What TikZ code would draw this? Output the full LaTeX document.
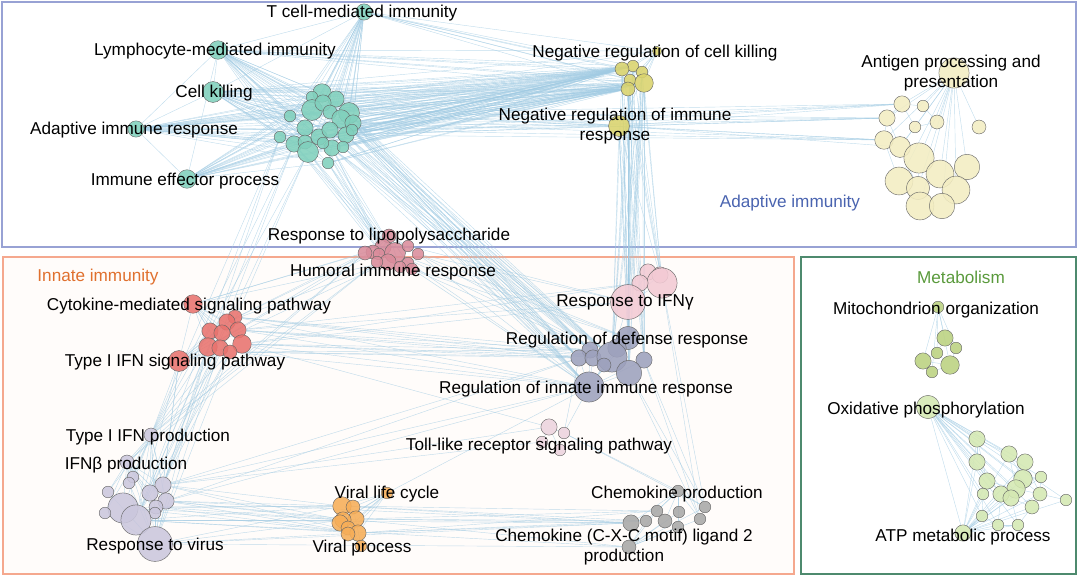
\documentclass[tikz,border=0pt]{standalone}
\usepackage{fontspec}
\setmainfont{Liberation Sans}

\definecolor{cTeal}{RGB}{128,208,188}
\definecolor{cYel}{RGB}{217,211,108}
\definecolor{cAnt}{RGB}{243,237,194}
\definecolor{cLps}{RGB}{217,140,155}
\definecolor{cRed}{RGB}{233,115,110}
\definecolor{cIfg}{RGB}{243,202,212}
\definecolor{cReg}{RGB}{157,161,189}
\definecolor{cToll}{RGB}{236,212,222}
\definecolor{cLav}{RGB}{203,199,221}
\definecolor{cOra}{RGB}{247,174,88}
\definecolor{cChe}{RGB}{168,168,168}
\definecolor{cMito}{RGB}{187,210,128}
\definecolor{cGrn}{RGB}{212,232,178}
\definecolor{cEdge}{RGB}{160,202,226}
\definecolor{cAdBox}{RGB}{152,162,212}
\definecolor{cAdTxt}{RGB}{74,100,176}
\definecolor{cInBox}{RGB}{245,168,142}
\definecolor{cInTxt}{RGB}{224,112,46}
\definecolor{cMeBox}{RGB}{78,138,110}
\definecolor{cMeTxt}{RGB}{90,154,60}

\pgfdeclarelayer{bg}
\pgfdeclarelayer{links}
\pgfsetlayers{bg,links,main}

\begin{document}
\begin{tikzpicture}[x=0.025cm, y=-0.025cm]
    \tikzset{bub/.style={circle, draw=black!60, line width=0.3pt, fill opacity=0.88, inner sep=0pt, minimum size=#1*0.058cm}}
    \tikzstyle{lk}=[draw=cEdge, line width=0.3pt, draw opacity=0.65]
    \tikzstyle{lbl}=[font=\fontsize{12.2}{13.8}\selectfont, inner sep=0pt, align=center]
    \useasboundingbox (0,0) rectangle (1080,577);

    % adaptive immunity
    \foreach \n/\x/\y/\r in {tA/364/12/7, tB/218/50/8, tC/213/92/9, tD/136/129/7, tE/187/179/8,
        t1/322/93/8, t2/336/99/7, t3/312/97/5, t4/312/110/9, t5/323/103/7, t6/330/112/6,
        t7/349/113/9, t8/341/119/8, t9/353/123/7, t10/290/116/5, t11/305/128/7, t12/319/137/7,
        t13/330/130/7, t14/346/135/7, t15/280/137/5, t16/294/144/7, t17/305/142/6, t18/308/152/9,
        t19/332/148/7, t20/343/147/5, t21/323/143/5, t22/328/163/5, t23/352/130/5}
      \node[bub=\r, fill=cTeal] (\n) at (\x,\y) {};
    \foreach \n/\x/\y/\r in {y1/657/51/4, y2/633/66/5, y3/622/69/6, y4/642/72/5, y5/630/80/5,
        y6/644/83/8, y7/628/89/6, y8/619/126/9}
      \node[bub=\r, fill=cYel] (\n) at (\x,\y) {};
    \foreach \n/\x/\y/\r in {a1/954/73/13, a2/902/104/7, a3/923/106/5, a4/887/118/7, a5/937/122/6,
        a6/915/127/5, a7/979/127/6, a8/884/140/8, a9/900/147/9, a10/919/158/13, a11/940/174/12,
        a12/967/167/11, a13/899/181/12, a14/918/188/10, a15/956/190/12, a16/920/206/12, a17/942/206/11}
      \node[bub=\r, fill=cAnt] (\n) at (\x,\y) {};

    % innate immunity
    \foreach \n/\x/\y/\r in {p1/389/236/6, p2/383/247/7, p3/395/253/9, p4/373/252/6, p5/365/253/6,
        p6/379/254/5, p7/408/246/5, p8/418/254/5, p9/388/262/7, p10/408/263/5, p11/412/269/5,
        p12/400/267/5, p13/377/262/5}
      \node[bub=\r, fill=cLps] (\n) at (\x,\y) {};
    \foreach \n/\x/\y/\r in {r1/193/304/8, r2/179/361/9, r3/235/317/6, r4/227/322/7, r5/238/330/7,
        r6/210/331/7, r7/222/333/7, r8/242/344/8, r9/208/347/8, r10/220/348/7, r11/230/352/6}
      \node[bub=\r, fill=cRed] (\n) at (\x,\y) {};
    \foreach \n/\x/\y/\r in {g1/648/272/7, g2/660/275/7, g3/662/283/13, g4/640/283/7, g5/628/302/15}
      \node[bub=\r, fill=cIfg] (\n) at (\x,\y) {};
    \foreach \n/\x/\y/\r in {d1/628/338/10, d2/617/348/8, d3/590/350/7, d4/579/358/7, d5/593/358/7,
        d6/612/357/13, d7/604/365/6, d8/644/360/7, d9/629/373/11, d10/589/387/13}
      \node[bub=\r, fill=cReg] (\n) at (\x,\y) {};
    \foreach \n/\x/\y/\r in {k1/549/427/7, k2/564/433/5, k3/542/442/5, k4/560/450/5}
      \node[bub=\r, fill=cToll] (\n) at (\x,\y) {};
    \foreach \n/\x/\y/\r in {v1/151/435/6, v2/127/462/6, v3/133/477/5, v4/129/483/5, v5/108/492/5,
        v6/163/485/7, v7/150/493/7, v8/166/501/7, v9/156/507/6, v10/155/513/5, v11/123/508/13,
        v12/136/520/13, v13/105/513/5, v14/155/544/15}
      \node[bub=\r, fill=cLav] (\n) at (\x,\y) {};
    \foreach \n/\x/\y/\r in {o1/387/493/5, o2/342/506/8, o3/353/507/6, o4/356/519/7, o5/343/520/7,
        o6/340/523/7, o7/348/528/6, o8/358/533/7, o9/348/534/6, o10/361/546/5}
      \node[bub=\r, fill=cOra] (\n) at (\x,\y) {};
    \foreach \n/\x/\y/\r in {c1/678/491/5, c2/657/511/5, c3/679/512/5, c4/705/507/5, c5/631/523/7,
        c6/646/521/5, c7/665/521/6, c8/700/519/5, c9/678/527/5, c10/629/547/6}
      \node[bub=\r, fill=cChe] (\n) at (\x,\y) {};

    % metabolism
    \foreach \n/\x/\y/\r in {m1/938/307/5, m2/945/338/7, m3/956/348/5, m4/937/353/5, m5/923/361/7,
        m6/950/365/8, m7/932/372/5}
      \node[bub=\r, fill=cMito] (\n) at (\x,\y) {};
    \foreach \n/\x/\y/\r in {x1/928/407/10, e1/977/439/7, e2/1009/454/7, e3/977/462/7, e4/1025/462/7,
        e5/987/481/7, e6/1023/479/8, e7/1041/477/5, e8/1016/489/8, e9/1001/494/7, e10/1011/498/7,
        e11/983/494/5, e12/1040/494/6, e13/1066/500/5, e14/1032/507/6, e15/982/516/5,
        e16/998/525/5, e17/1018/525/5, z1/963/533/7}
      \node[bub=\r, fill=cGrn] (\n) at (\x,\y) {};

    \begin{pgfonlayer}{links}
      \foreach \h in {tA,tB,tC,tD,tE}
        \foreach \i in {1,...,23} \draw[lk] (\h) -- (t\i);
      \foreach \a/\b in {tA/tB, tB/tC, tB/tD, tC/tD, tD/tE, tB/tE, tA/tC}
        \draw[lk] (\a) -- (\b);
      \foreach \i in {1,...,23}
        \foreach \j in {2,3,6,7} \draw[lk] (t\i) -- (y\j);
      \foreach \h in {tA,tB,tC,tD}
        \foreach \j in {1,...,7} \draw[lk] (\h) -- (y\j);
      \foreach \i in {2,5,7,9,14,23} \draw[lk] (t\i) -- (y8);
      \foreach \i in {7,9,14,23}
        \foreach \j in {2,4,8} \draw[lk] (t\i) -- (a\j);
      \foreach \j in {2,4,8,9} \draw[lk] (y8) -- (a\j);
      \foreach \i in {12,16,18,19,22}
        \foreach \j in {2,3,9} \draw[lk] (t\i) -- (p\j);
      \foreach \i in {7,8,9,13,14,19,20,23}
        \foreach \j in {3,4,6,10} \draw[lk] (t\i) -- (d\j);
      \foreach \i in {15,16,18}
        \foreach \j in {1,6,12} \draw[lk] (t\i) -- (v\j);
      % negative regulation
      \foreach \j in {2,...,8} \draw[lk] (y1) -- (y\j);
      \foreach \i in {2,...,8}
        \foreach \j in {d1,d6,d9,g5,g3,d8} \draw[lk] (y\i) -- (\j);
      % antigen
      \foreach \j in {2,...,17} \draw[lk] (a1) -- (a\j);
      \foreach \a/\b in {2/4, 4/8, 8/9, 9/10, 10/11, 11/12, 13/14, 14/16, 16/17, 15/17, 12/15,
          2/3, 3/5, 5/6, 6/9, 8/13, 10/13, 10/14, 11/15, 9/14, 4/9, 2/6}
        \draw[lk] (a\a) -- (a\b);
      % lipopolysaccharide
      \foreach \j in {2,...,13} \draw[lk] (p1) -- (p\j);
      \foreach \i in {2,5,9}
        \foreach \j in {1,4,9} \draw[lk] (p\i) -- (r\j);
      \foreach \i in {3,8,11}
        \foreach \j in {1,6,10} \draw[lk] (p\i) -- (d\j);
      \foreach \i in {5,13}
        \foreach \j in {1,2} \draw[lk] (p\i) -- (v\j);
      \foreach \i in {7,8} \draw[lk] (p\i) -- (g5);
      % cytokine / type I IFN
      \foreach \h in {r1,r2}
        \foreach \j in {3,...,11} \draw[lk] (\h) -- (r\j);
      \draw[lk] (r1) -- (r2);
      \foreach \i in {3,5,8,11}
        \foreach \j in {3,4,6,10} \draw[lk] (r\i) -- (d\j);
      \foreach \i in {5,8}
        \foreach \j in {4,5} \draw[lk] (r\i) -- (g\j);
      \foreach \i in {r2,r9,r10,r11}
        \foreach \j in {1,6,12,14} \draw[lk] (\i) -- (v\j);
      \draw[lk] (r8) -- (k1);
      % IFN gamma and defense response
      \foreach \j in {1,...,4} \draw[lk] (g5) -- (g\j);
      \foreach \j in {1,6} \draw[lk] (g5) -- (d\j);
      \foreach \j in {1,...,9} \draw[lk] (d10) -- (d\j);
      \foreach \j in {6,9} \draw[lk] (d1) -- (d\j);
      % virus
      \foreach \h in {v1,v2,v14}
        \foreach \j in {3,...,13} \draw[lk] (\h) -- (v\j);
      \draw[lk] (v1) -- (v2);
      \foreach \i in {6,8,9,11,12,14}
        \foreach \j in {2,5,8} \draw[lk] (v\i) -- (o\j);
      \foreach \i in {8,12,14}
        \foreach \j in {5,10} \draw[lk] (v\i) -- (c\j);
      \foreach \i in {6,8}
        \foreach \j in {4,10} \draw[lk] (v\i) -- (d\j);
      \foreach \j in {1,3} \draw[lk] (v6) -- (k\j);
      \foreach \h in {o1,o10}
        \foreach \j in {2,...,9} \draw[lk] (\h) -- (o\j);
      \foreach \i in {2,4,8}
        \foreach \j in {2,5,6} \draw[lk] (o\i) -- (c\j);
      \draw[lk] (o1) -- (d10);
      % toll-like and chemokine
      \foreach \j in {2,3,4} \draw[lk] (k1) -- (k\j);
      \foreach \j in {d4,d10,c1,c4} \draw[lk] (k2) -- (\j);
      \foreach \h in {c1,c10}
        \foreach \j in {2,...,9} \draw[lk] (\h) -- (c\j);
      \foreach \i in {4,8}
        \foreach \j in {d8,d9,g3} \draw[lk] (c\i) -- (\j);
      % metabolism
      \foreach \j in {2,...,7} \draw[lk] (m1) -- (m\j);
      \foreach \a/\b in {2/3, 2/4, 4/5, 5/6, 6/7, 3/6, 4/6}
        \draw[lk] (m\a) -- (m\b);
      \foreach \h in {x1,z1}
        \foreach \j in {1,...,17} \draw[lk] (\h) -- (e\j);
      \draw[lk] (x1) -- (z1);
      \foreach \a/\b in {1/2, 1/3, 2/4, 2/6, 3/5, 4/6, 5/8, 6/8, 6/7, 7/12, 8/9, 9/10, 10/14,
          12/13, 12/14, 5/11, 11/15, 15/16, 16/17, 17/14, 1/5, 3/9, 2/8, 4/12, 8/12, 9/16, 10/17}
        \draw[lk] (e\a) -- (e\b);
    \end{pgfonlayer}

    % group boxes
    \begin{pgfonlayer}{bg}
      \draw[cAdBox, line width=1.1pt] (2,2) rectangle (1076,247);
      \draw[cInBox, fill=orange!2, line width=1.1pt] (3,257) rectangle (794,574);
      \draw[cMeBox, line width=1.1pt] (801,257) rectangle (1076,574);
    \end{pgfonlayer}

    % labels
    \node[lbl, text=cAdTxt] (tAdapt) at (790,203) {Adaptive immunity};
    \node[lbl, text=cInTxt] (tInnate) at (98,277) {Innate immunity};
    \node[lbl, text=cMeTxt] (tMeta) at (961,277) {Metabolism};

    \node[lbl] (lTcell) at (362,13) {T cell-mediated immunity};
    \node[lbl] (lLymph) at (215,51) {Lymphocyte-mediated immunity};
    \node[lbl] (lKill) at (214,93) {Cell killing};
    \node[lbl] (lAdapt) at (134,130) {Adaptive immune response};
    \node[lbl] (lEffect) at (185,181) {Immune effector process};
    \node[lbl] (lNegKill) at (655,53) {Negative regulation of cell killing};
    \node[lbl] (lNegImm) at (615,126) {Negative regulation of immune\\response};
    \node[lbl] (lAntigen) at (951,73) {Antigen processing and\\presentation};
    \node[lbl] (lLps) at (389,236) {Response to lipopolysaccharide};
    \node[lbl] (lHumoral) at (393,272) {Humoral immune response};
    \node[lbl] (lCyto) at (189,306) {Cytokine-mediated signaling pathway};
    \node[lbl] (lTypeSig) at (175,362) {Type I IFN signaling pathway};
    \node[lbl] (lIfng) at (625,302) {Response to IFNγ};
    \node[lbl] (lDef) at (627,340) {Regulation of defense response};
    \node[lbl] (lInnate) at (586,389) {Regulation of innate immune response};
    \node[lbl] (lToll) at (539,446) {Toll-like receptor signaling pathway};
    \node[lbl] (lTypeProd) at (148,437) {Type I IFN production};
    \node[lbl] (lIfnb) at (126,465) {IFNβ production};
    \node[lbl] (lVirus) at (155,546) {Response to virus};
    \node[lbl] (lLife) at (387,494) {Viral life cycle};
    \node[lbl] (lViral) at (362,548) {Viral process};
    \node[lbl] (lChemo) at (677,494) {Chemokine production};
    \node[lbl] (lCxcl) at (624,547) {Chemokine (C-X-C motif) ligand 2\\production};
    \node[lbl] (lMito) at (936,310) {Mitochondrion organization};
    \node[lbl] (lOx) at (926,410) {Oxidative phosphorylation};
    \node[lbl] (lAtp) at (963,537) {ATP metabolic process};
\end{tikzpicture}
\end{document}
